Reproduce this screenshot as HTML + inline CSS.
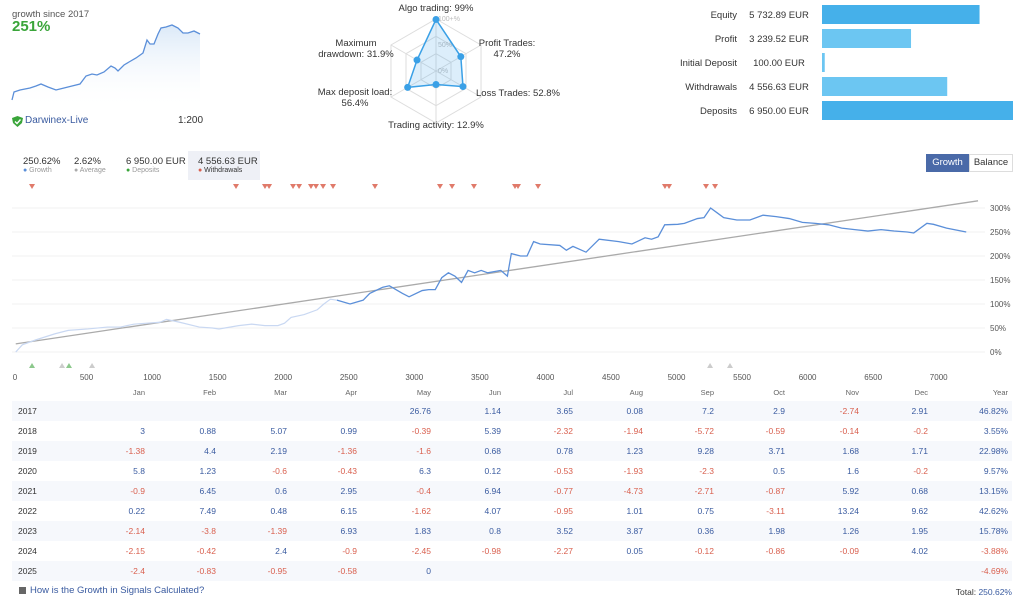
<!DOCTYPE html>
<html><head><meta charset="utf-8">
<style>
body{margin:0;width:1024px;height:607px;background:#fff;font-family:"Liberation Sans","DejaVu Sans",sans-serif;position:relative;overflow:hidden;color:#333}
.a{position:absolute;white-space:nowrap}
.s{font-size:9.5px}
</style></head><body>
<div class="a s" style="left:12px;top:9px;color:#555">growth since 2017</div>
<div class="a" style="left:12px;top:18px;font-size:15px;color:#3aa53a;font-weight:bold">251%</div>
<svg class="a" style="left:0;top:0" width="220" height="110">
<defs><linearGradient id="g" x1="0" y1="0" x2="0" y2="1"><stop offset="0" stop-color="#dbe9f8"/><stop offset="1" stop-color="#fff" stop-opacity="0"/></linearGradient></defs>
<g id="mini"></g></svg>
<svg class="a" style="left:12px;top:116px" width="11" height="11"><path d="M5.5 0 L11 2 L10 7 L5.5 11 L1 7 L0 2Z" fill="#3aa53a"/><path d="M3 5.5 L5 7.5 L8.5 3.5" stroke="#fff" stroke-width="1.4" fill="none"/></svg>
<div class="a" style="left:25px;top:115px;color:#3a5ba0;font-size:10px">Darwinex-Live</div>
<div class="a" style="left:178px;top:115px;font-size:10px">1:200</div>

<div class="a" style="left:188px;top:151px;width:72px;height:29px;background:#eef0f6"></div>
<div class="a s" style="left:23px;top:156px">250.62%<div style="font-size:7px;color:#999"><span style="color:#5b8fd9">●</span> Growth</div></div>
<div class="a s" style="left:74px;top:156px">2.62%<div style="font-size:7px;color:#999"><span style="color:#aaa">●</span> Average</div></div>
<div class="a s" style="left:126px;top:156px">6 950.00 EUR<div style="font-size:7px;color:#999"><span style="color:#3aa53a">●</span> Deposits</div></div>
<div class="a s" style="left:198px;top:156px">4 556.63 EUR<div style="font-size:7px;color:#333"><span style="color:#d9604f">●</span> Withdrawals</div></div>

<svg class="a" style="left:300px;top:0" width="280" height="135" font-size="9.5" font-family="Liberation Sans, DejaVu Sans, sans-serif" fill="#333"><g id="radar"></g></svg>

<svg class="a" style="left:660px;top:0" width="364" height="125" font-size="9.5" font-family="Liberation Sans, DejaVu Sans, sans-serif" fill="#333"><g id="bars"></g></svg>

<div class="a s" style="left:926px;top:154px;width:43px;height:18px;line-height:18px;text-align:center;background:#4a6aa8;color:#fff">Growth</div>
<div class="a s" style="left:969px;top:154px;width:42px;height:16px;line-height:16px;text-align:center;border:1px solid #ddd;color:#333">Balance</div>

<svg class="a" style="left:0;top:180px" width="1024" height="205" font-size="8" font-family="Liberation Sans, DejaVu Sans, sans-serif" fill="#555"><g id="main" transform="translate(0,-180)"></g></svg>

<div id="table"></div>
<div class="a" style="left:19px;top:587px;width:7px;height:7px;background:#666"></div>
<div class="a s" style="left:30px;top:585px;color:#3a5ba0">How is the Growth in Signals Calculated?</div>
<div class="a" style="right:12px;top:587px;font-size:8.5px">Total: <span style="color:#3a5ba0">250.62%</span></div>

<script>
const NS='http://www.w3.org/2000/svg';
function mk(p,t,a){const e=document.createElementNS(NS,t);for(const k in a)e.setAttribute(k,a[k]);p.appendChild(e);return e;}

// mini chart
const miniX=[12,14,20,30,36,41,48,56,64,72,80,86,92,97,104,111,115,118,124,129,136,143,147,150,154,158,161,166,172,178,183,188,194,200];
const miniY=[100,92,90,88,86,84,87,90,88,86,84,76,74,75,72,66,68,71,65,62,58,53,40,44,44,34,28,27,25,28,33,33,31,34];
(function(){const g=document.getElementById('mini');
let d='M'+miniX.map((x,i)=>x+' '+miniY[i]).join(' L');
const ar=mk(g,'path',{d:d+' L200 110 L12 110 Z',fill:'url(#g)'});

const ln=mk(g,'path',{d:d,fill:'none',stroke:'#5b8fd9','stroke-width':1.3});
})();

// radar
const radarLabels=['Algo trading: 99%','Profit Trades:|47.2%','Loss Trades: 52.8%','Trading activity: 12.9%','Max deposit load:|56.4%','Maximum|drawdown: 31.9%'];
const radarValues=[99,47.2,52.8,12.9,56.4,31.9];
(function(){const g=document.getElementById('radar');const cx=136,cy=71,R=52;
const ang=i=>(-90+60*i)*Math.PI/180;
[1/3,2/3,1].forEach(f=>{mk(g,'polygon',{points:[0,1,2,3,4,5].map(i=>(cx+R*f*Math.cos(ang(i)))+','+(cy+R*f*Math.sin(ang(i)))).join(' '),fill:'none',stroke:'#ddd'});});
for(let i=0;i<6;i++)mk(g,'line',{x1:cx,y1:cy,x2:cx+R*Math.cos(ang(i)),y2:cy+R*Math.sin(ang(i)),stroke:'#ddd'});
[['100+%',18],['50%',44],['0%',70]].forEach(t=>{const e=mk(g,'text',{x:cx+2,y:t[1]+3,fill:'#bbb','font-size':7});e.textContent=t[0];});
const pr=v=>R*(0.15+0.85*v/100);
const pts=radarValues.map((v,i)=>[cx+pr(v)*Math.cos(ang(i)),cy+pr(v)*Math.sin(ang(i))]);
const poly=mk(g,'polygon',{points:pts.map(p=>p.join(',')).join(' '),fill:'rgba(80,170,235,0.2)',stroke:'#3aa0e6','stroke-width':1.5});

pts.forEach(p=>{const c=mk(g,'circle',{cx:p[0],cy:p[1],r:3.5,fill:'#3aa0e6'});});
const pos=[[136,11,'middle'],[207,46,'middle'],[218,96,'middle'],[136,128,'middle'],[55,95,'middle'],[56,46,'middle']];
radarLabels.forEach((l,i)=>{const ls=l.split('|');ls.forEach((s,j)=>{const e=mk(g,'text',{x:pos[i][0],y:pos[i][1]+j*11,'text-anchor':pos[i][2]});e.textContent=s;});});})();

// bars
const barNames=['Equity','Profit','Initial Deposit','Withdrawals','Deposits'];
const barValues=[5732.89,3239.52,100,4556.63,6950];
const barText=['5 732.89 EUR','3 239.52 EUR','100.00 EUR','4 556.63 EUR','6 950.00 EUR'];
const barColors=['#45b0ea','#6cc6f2','#6cc6f2','#6cc6f2','#45b0ea'];
(function(){const g=document.getElementById('bars');const bx=162,bw=191,mx=6950;
barNames.forEach((n,i)=>{const y=5+i*24;
let t=mk(g,'text',{x:77,y:y+13,'text-anchor':'end'});t.textContent=n;
t=mk(g,'text',{x:119,y:y+13,'text-anchor':'middle'});t.textContent=barText[i];
const r=mk(g,'rect',{x:bx,y:y,width:Math.max(2,bw*barValues[i]/mx),height:19,fill:barColors[i]});
});})();

// main chart
const yTicks=[0,50,100,150,200,250,300];
const xTicks=[0,500,1000,1500,2000,2500,3000,3500,4000,4500,5000,5500,6000,6500,7000];
const growthX=[0,50,150,300,400,550,700,800,900,1000,1100,1150,1250,1400,1500,1550,1700,1800,1900,2000,2050,2100,2200,2300,2350,2400,2450,2550,2650,2700,2800,2850,2950,3000,3100,3150,3200,3250,3300,3350,3400,3450,3500,3550,3600,3700,3750,3780,3850,3900,3950,4000,4150,4200,4250,4350,4450,4600,4700,4800,4850,4900,4950,5050,5100,5200,5250,5300,5350,5400,5500,5600,5700,5800,5900,6000,6100,6200,6300,6400,6500,6600,6700,6800,6850,6950,7000,7100,7250];
const growthY=[0,15,25,38,45,48,52,52,58,60,62,68,62,52,50,48,55,58,55,55,60,72,78,88,100,110,108,100,108,122,135,138,122,115,128,130,130,155,165,158,145,170,165,170,165,170,158,205,200,200,230,225,222,212,220,208,235,230,225,238,235,240,265,266,268,278,280,300,290,280,275,275,285,282,278,270,268,265,258,255,252,255,252,250,248,268,266,258,250];
const trendX=[-40,7300];const trendY=[17,315];
const withdrawalX=[84,1640,1861,1892,2075,2121,2212,2250,2304,2380,2700,3196,3288,3455,3768,3791,3944,4912,4943,5225,5294];
const depositX=[84,366];const otherX=[313,542,5256,5408];
const xs=u=>21+u*0.1311, ys=p=>352-p*0.48;
(function(){const g=document.getElementById('main');
yTicks.forEach(v=>{mk(g,'line',{x1:12,x2:985,y1:ys(v),y2:ys(v),stroke:'#f0f0f0'});const t=mk(g,'text',{x:990,y:ys(v)+3});t.textContent=v+'%';});
xTicks.forEach(v=>{const t=mk(g,'text',{x:v===0?15:xs(v),y:380,'text-anchor':'middle'});t.textContent=v;});
const tr=mk(g,'line',{x1:xs(trendX[0]),y1:ys(trendY[0]),x2:xs(trendX[1]),y2:ys(trendY[1]),stroke:'#aaa','stroke-width':1.3});

const p1=[],p2=[];growthX.forEach((x,i)=>{const s=Math.max(15,xs(x-40))+' '+ys(growthY[i]);if(x<=2450)p1.push(s);if(x>=2450)p2.push(s);});
let l=mk(g,'path',{d:'M'+p1.join(' L'),fill:'none',stroke:'#c9d8f2','stroke-width':1.2});

l=mk(g,'path',{d:'M'+p2.join(' L'),fill:'none',stroke:'#5b8fd9','stroke-width':1.3});

const tri=(x,y,down,c,n)=>{const X=xs(x);const e=mk(g,'polygon',{points:down?`${X-3},${y} ${X+3},${y} ${X},${y+5}`:`${X-3},${y+5} ${X+3},${y+5} ${X},${y}`,fill:c});};
withdrawalX.forEach(x=>tri(x,184,true,'#e07a6a','withdrawal-marker'));
depositX.forEach(x=>tri(x,363,false,'#8cc88c','deposit-marker'));
otherX.forEach(x=>tri(x,363,false,'#ccc','event-marker'));})();

// table
const months=['Jan','Feb','Mar','Apr','May','Jun','Jul','Aug','Sep','Oct','Nov','Dec','Year'];
const years=['2017','2018','2019','2020','2021','2022','2023','2024','2025'];
const tableData=[
['','','','','26.76','1.14','3.65','0.08','7.2','2.9','-2.74','2.91','46.82%'],
['3','0.88','5.07','0.99','-0.39','5.39','-2.32','-1.94','-5.72','-0.59','-0.14','-0.2','3.55%'],
['-1.38','4.4','2.19','-1.36','-1.6','0.68','0.78','1.23','9.28','3.71','1.68','1.71','22.98%'],
['5.8','1.23','-0.6','-0.43','6.3','0.12','-0.53','-1.93','-2.3','0.5','1.6','-0.2','9.57%'],
['-0.9','6.45','0.6','2.95','-0.4','6.94','-0.77','-4.73','-2.71','-0.87','5.92','0.68','13.15%'],
['0.22','7.49','0.48','6.15','-1.62','4.07','-0.95','1.01','0.75','-3.11','13.24','9.62','42.62%'],
['-2.14','-3.8','-1.39','6.93','1.83','0.8','3.52','3.87','0.36','1.98','1.26','1.95','15.78%'],
['-2.15','-0.42','2.4','-0.9','-2.45','-0.98','-2.27','0.05','-0.12','-0.86','-0.09','4.02','-3.88%'],
['-2.4','-0.83','-0.95','-0.58','0','','','','','','','','-4.69%']];
const colRight=[145,216,287,357,431,501,573,643,714,785,859,928,1008];
(function(){const T=document.getElementById('table');let h='';
months.forEach((m,i)=>{h+=`<div class="a" style="font-size:7.5px;color:#666;right:${1024-colRight[i]}px;top:388px">${m}</div>`;});
years.forEach((y,r)=>{const top=401+r*20;
h+=`<div class="a" style="left:12px;top:${top}px;width:1000px;height:20px;background:${r%2==0?'#f6f8fc':'#fff'}"></div>`;
h+=`<div class="a" style="left:18px;top:${top+5}px;font-size:8.5px;color:#333">${y}</div>`;
tableData[r].forEach((v,c)=>{if(v==='')return;const col=v.startsWith('-')?'#d9604f':'#3a5ba0';
h+=`<div class="a" style="right:${1024-colRight[c]}px;top:${top+5}px;font-size:8.5px;color:${col}">${v}</div>`;});});
T.innerHTML=h;})();
</script>
</body></html>
